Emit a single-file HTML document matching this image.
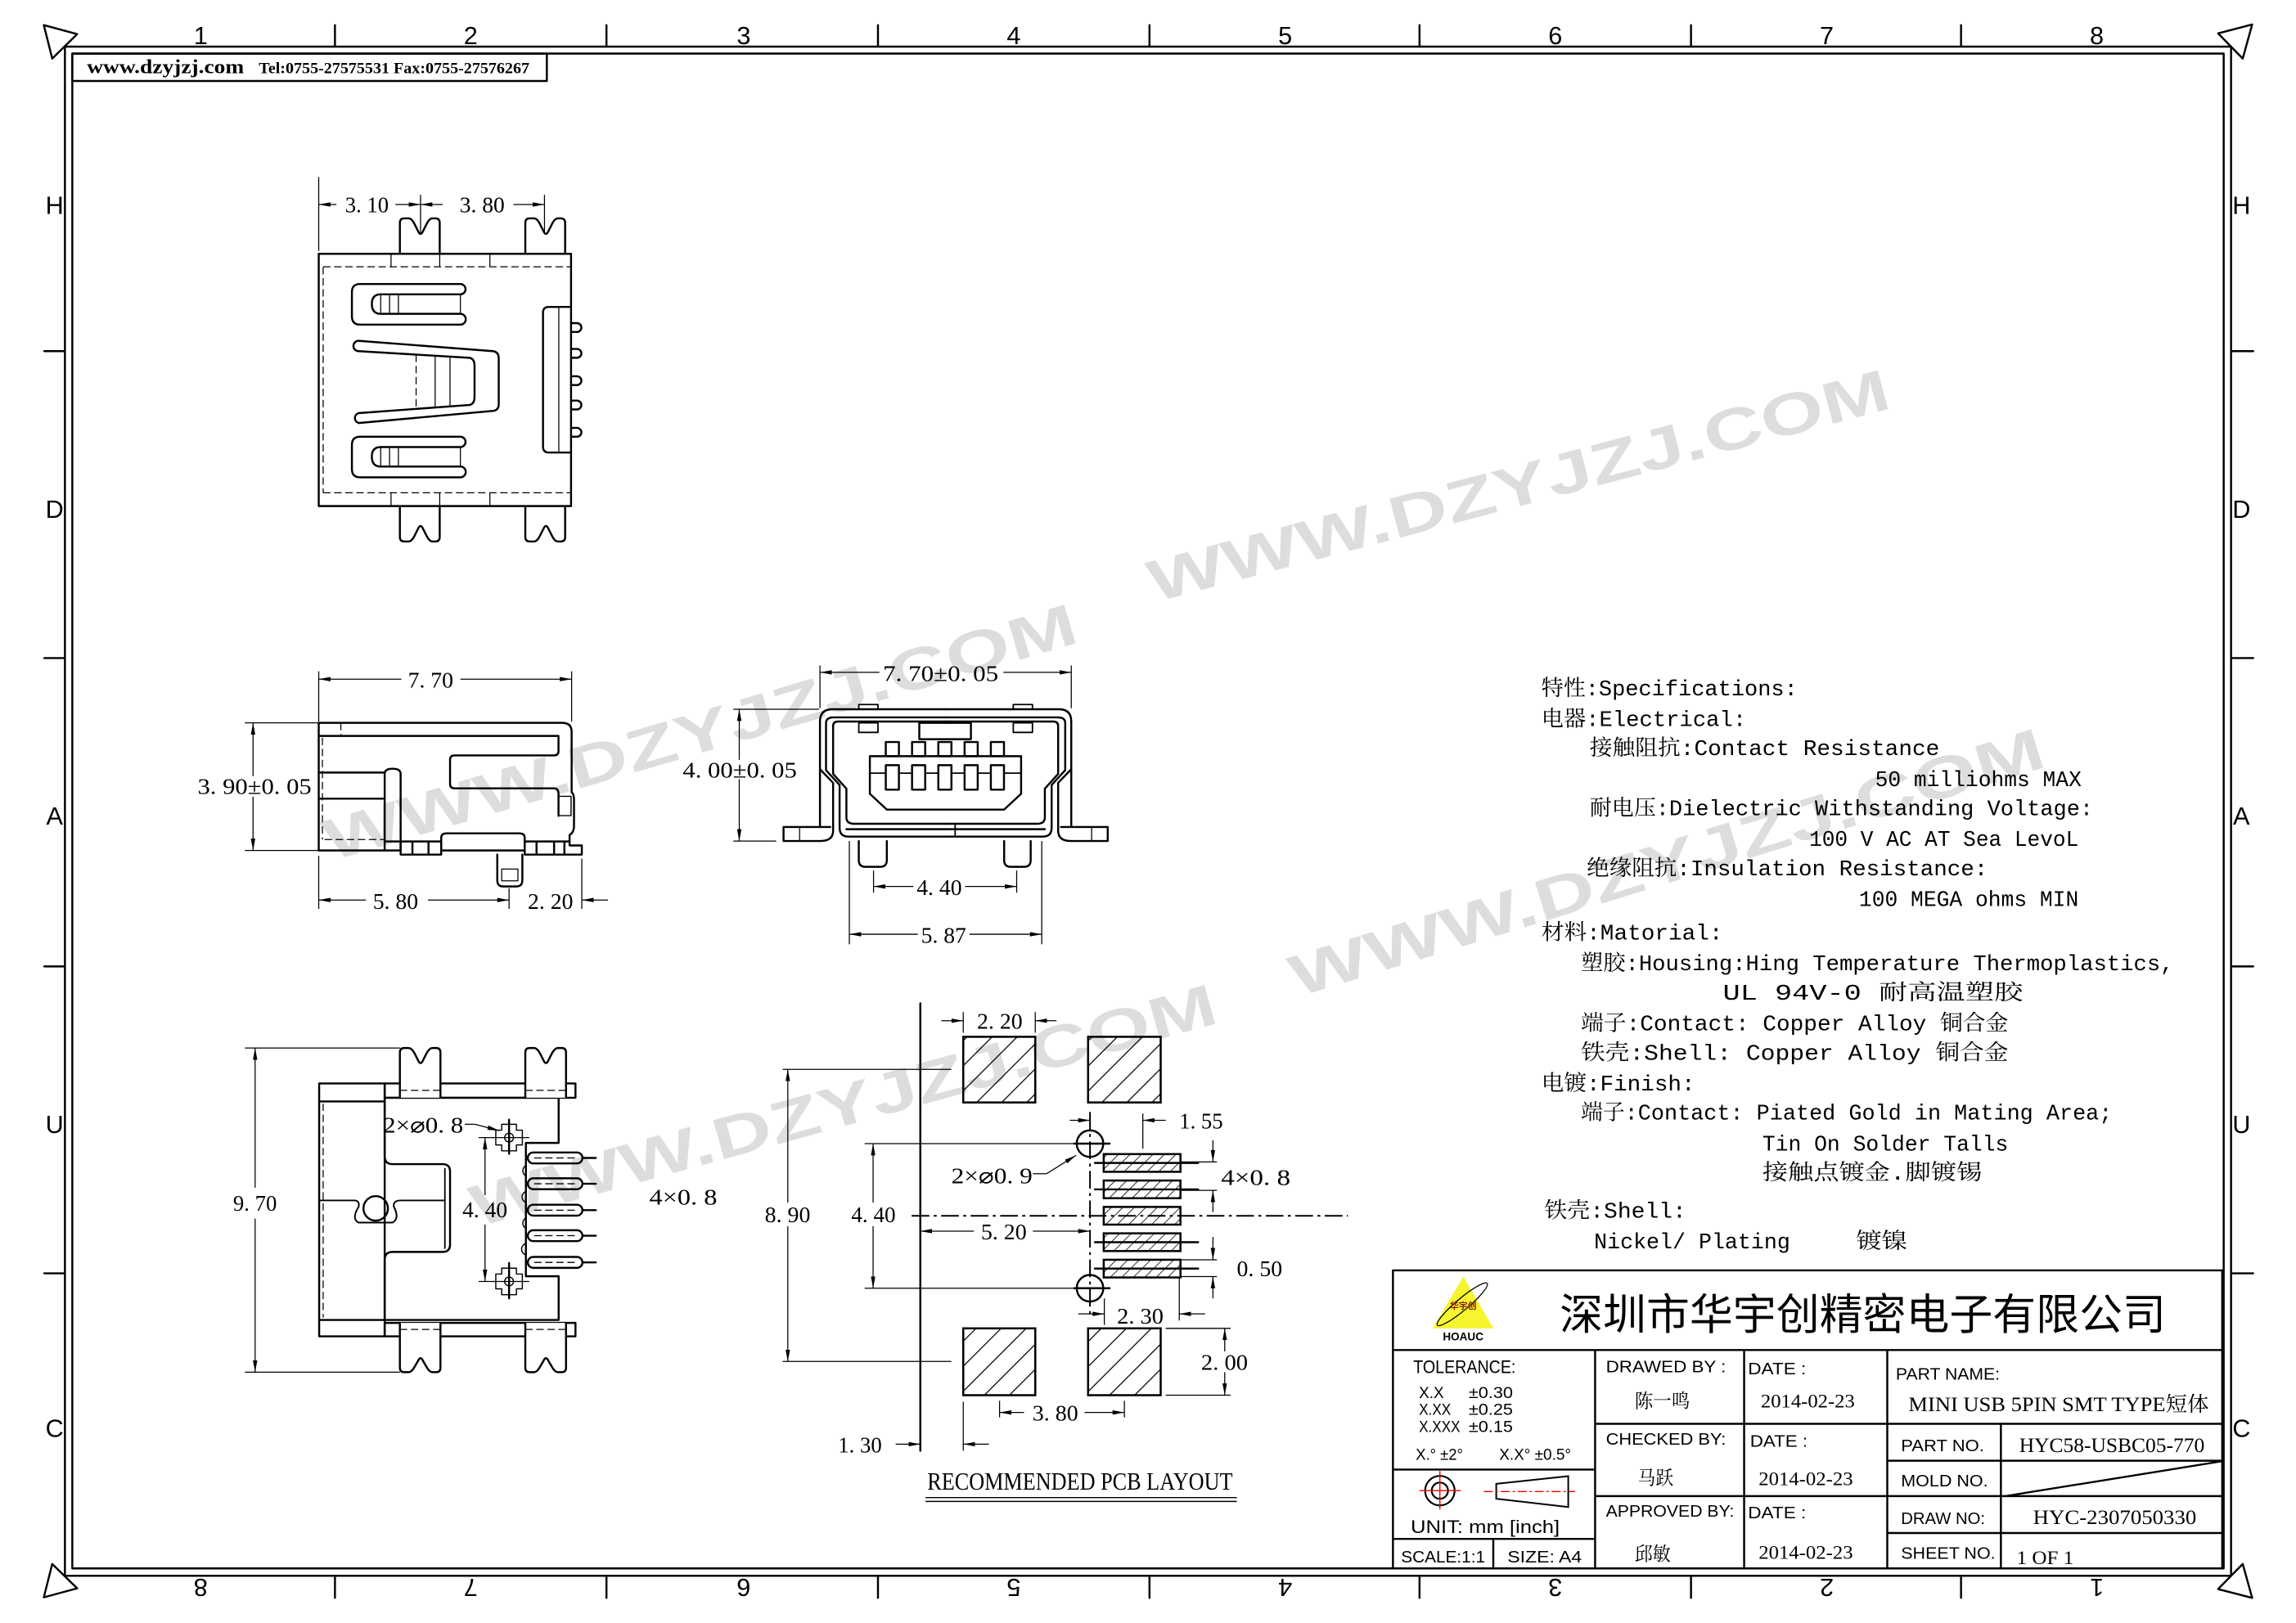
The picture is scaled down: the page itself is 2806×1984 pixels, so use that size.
<!DOCTYPE html>
<html><head><meta charset="utf-8"><style>
html,body{margin:0;padding:0;background:#fff;}
svg{display:block;}
.o{stroke:#000;stroke-width:1.35;fill:none;stroke-linejoin:round;stroke-linecap:round}
.d{stroke:#000;stroke-width:0.7;fill:none}
.ds{stroke:#000;stroke-width:0.7;fill:none;stroke-dasharray:5,2.5}
.cl{stroke:#000;stroke-width:1.1;fill:none;stroke-dasharray:12,3,2,3}
.t{font-family:"Liberation Serif","Noto Serif CJK SC",serif;font-size:15px;fill:#000}
.s{font-family:"Liberation Sans","Noto Sans CJK SC",sans-serif;fill:#000}
.m{font-family:"Liberation Mono","Noto Serif CJK SC",monospace;font-size:15px;fill:#000}
.fr{font-family:"Liberation Sans",sans-serif;font-size:17px;fill:#000;text-anchor:middle}
.wm{font-family:"Liberation Sans",sans-serif;font-size:40px;fill:#dddddd;font-weight:bold}
</style></head><body>
<svg width="2806" height="1984" viewBox="0 0 1556 1100" preserveAspectRatio="none" xmlns="http://www.w3.org/2000/svg">
<defs>
<marker id="a" markerUnits="userSpaceOnUse" markerWidth="8" markerHeight="3" refX="8" refY="1.5" orient="auto"><path d="M0,0 L8,1.5 L0,3 z" fill="#000"/></marker>
<pattern id="hb" patternUnits="userSpaceOnUse" width="12" height="12" patternTransform="rotate(45)"><line x1="0" y1="0" x2="0" y2="12" stroke="#000" stroke-width="1.4"/></pattern>
<pattern id="hs" patternUnits="userSpaceOnUse" width="5.5" height="5.5" patternTransform="rotate(45)"><line x1="0" y1="0" x2="0" y2="5.5" stroke="#000" stroke-width="0.9"/></pattern>
</defs>
<rect width="1556" height="1100" fill="#fff"/>

<!-- watermarks -->
<g transform="scale(0.992)">
<text class="wm" x="785" y="412" textLength="522" lengthAdjust="spacingAndGlyphs" transform="rotate(-14.75 785 398)">WWW.DZYJZJ.COM</text>
<text class="wm" x="222" y="589" textLength="534" lengthAdjust="spacingAndGlyphs" transform="rotate(-16.3 222 575)">WWW.DZYJZJ.COM</text>
<text class="wm" x="882" y="682" textLength="537" lengthAdjust="spacingAndGlyphs" transform="rotate(-17.1 882 668)">WWW.DZYJZJ.COM</text>
<text class="wm" x="322" y="839" textLength="527" lengthAdjust="spacingAndGlyphs" transform="rotate(-15.4 322 825)">WWW.DZYJZJ.COM</text>
</g>

<!-- frame -->
<rect x="44" y="31.6" width="1468" height="1036.4" class="o" stroke-width="1.5"/>
<rect x="49" y="36.3" width="1458" height="1026.7" class="o" stroke-width="1.5"/>
<g class="o">
<path d="M227,17V31.6M411,17V31.6M595,17V31.6M779,17V31.6M962,17V31.6M1146,17V31.6M1329,17V31.6"/>
<path d="M227,1068V1083M411,1068V1083M595,1068V1083M779,1068V1083M962,1068V1083M1146,1068V1083M1329,1068V1083"/>
<path d="M30,238H44M30,446H44M30,655H44M30,863H44M1512,238H1527M1512,446H1527M1512,655H1527M1512,863H1527"/>
<path d="M29.7,17 L52.3,23.1 L35.4,39.7 Z"/>
<path d="M1503.2,22.6 L1526.3,16.6 L1519.9,39.7 Z"/>
<path d="M29.7,1082.6 L52.3,1076.5 L35.4,1060 Z"/>
<path d="M1503.2,1077 L1526.3,1083 L1519.9,1060 Z"/>
</g>
<g class="fr">
<text x="136" y="30">1</text><text x="319" y="30">2</text><text x="504" y="30">3</text><text x="687" y="30">4</text><text x="871" y="30">5</text><text x="1054" y="30">6</text><text x="1238" y="30">7</text><text x="1421" y="30">8</text>
<text x="136" y="1082" transform="rotate(180 136 1076)">8</text><text x="319" y="1082" transform="rotate(180 319 1076)">7</text><text x="504" y="1082" transform="rotate(180 504 1076)">6</text><text x="687" y="1082" transform="rotate(180 687 1076)">5</text><text x="871" y="1082" transform="rotate(180 871 1076)">4</text><text x="1054" y="1082" transform="rotate(180 1054 1076)">3</text><text x="1238" y="1082" transform="rotate(180 1238 1076)">2</text><text x="1421" y="1082" transform="rotate(180 1421 1076)">1</text>
<text x="37" y="145">H</text><text x="37" y="351">D</text><text x="37" y="559">A</text><text x="37" y="768">U</text><text x="37" y="974">C</text>
<text x="1519" y="145">H</text><text x="1519" y="351">D</text><text x="1519" y="559">A</text><text x="1519" y="768">U</text><text x="1519" y="974">C</text>
</g>
<!-- header -->
<rect x="49" y="36.3" width="321.6" height="18.6" class="o" stroke-width="1.5"/>
<text x="58.9" y="49.5" textLength="106.5" lengthAdjust="spacingAndGlyphs" style="font-family:'Liberation Serif',serif;font-weight:bold;font-size:13.5px">www.dzyjzj.com</text>
<text x="175.4" y="49.5" textLength="183.4" lengthAdjust="spacingAndGlyphs" style="font-family:'Liberation Serif',serif;font-weight:bold;font-size:10.5px">Tel:0755-27575531  Fax:0755-27576267</text>

<!-- ================= TOP VIEW ================= -->
<g class="o">
<rect x="216" y="172" width="171" height="171"/>
<path d="M271,172 V151 Q271,148 274,148 H277 Q279,148 281,152 L283.5,157 Q285,160 286.5,157 L289,152 Q291,148 293,148 H295 Q298,148 298,151 V172"/>
<path d="M356,172 V151 Q356,148 359,148 H362 Q364,148 366,152 L368.5,157 Q370,160 371.5,157 L374,152 Q376,148 378,148 H380 Q383,148 383,151 V172"/>
<g transform="translate(0,515) scale(1,-1)">
<path d="M271,172 V151 Q271,148 274,148 H277 Q279,148 281,152 L283.5,157 Q285,160 286.5,157 L289,152 Q291,148 293,148 H295 Q298,148 298,151 V172"/>
<path d="M356,172 V151 Q356,148 359,148 H362 Q364,148 366,152 L368.5,157 Q370,160 371.5,157 L374,152 Q376,148 378,148 H380 Q383,148 383,151 V172"/>
</g>
<path d="M312,199.5 H258 Q252,199.5 252,206 Q252,212.7 258,212.7 H312 A3.6,3.6 0 0 1 312,220 H244 Q238.5,220 238.5,214.5 V198 Q238.5,192.5 244,192.5 H312 A3.5,3.5 0 0 1 312,199.5 Z"/>
<g transform="translate(0,103.5)"><path d="M312,199.5 H258 Q252,199.5 252,206 Q252,212.7 258,212.7 H312 A3.6,3.6 0 0 1 312,220 H244 Q238.5,220 238.5,214.5 V198 Q238.5,192.5 244,192.5 H312 A3.5,3.5 0 0 1 312,199.5 Z"/></g>
<path d="M243,238 A3.5,3.5 0 0 1 243,231 L334,238 Q338,238.5 338,243 V274 Q338,278 334,278.5 L243,286.7 A3.5,3.5 0 0 1 243,280 L318,274.5 Q321.6,274 321.6,269 V248 Q321.6,243 318,242.5 Z"/>
<path d="M387,208 H372 Q368,208 368,212 V302.7 Q368,306.7 372,306.7 H387"/>
<path d="M387,219 H391 A3,3 0 0 1 391,225 H387 M387,236.5 H391 A3,3 0 0 1 391,242.5 H387 M387,255 H391 A3,3 0 0 1 391,261 H387 M387,271.5 H391 A3,3 0 0 1 391,277.5 H387 M387,290 H391 A3,3 0 0 1 391,296 H387"/>
</g>
<g class="d" stroke-width="1">
<path d="M258,199.5V212.7M264,199.5V212.7M270,199.5V212.7M312,199.5V212.7"/>
<path d="M258,303V316.2M264,303V316.2M270,303V316.2M312,303V316.2"/>
<path d="M294.9,241V276.5M305,242V275M378.7,208V306.7"/>
<path d="M265,172V181M298,172V181M332,172V181M265,334V343M298,334V343M332,334V343"/>
</g>
<path class="ds" d="M219,180.8H387M219,334H387M219,181V334M282,240.5V277.5"/>
<g class="d">
<path d="M216,120V170M285,132V158M369,132V158"/>
<line x1="228" y1="138.6" x2="216" y2="138.6" marker-end="url(#a)"/>
<line x1="268" y1="138.6" x2="285" y2="138.6" marker-end="url(#a)"/>
<line x1="300" y1="138.6" x2="285" y2="138.6" marker-end="url(#a)"/>
<line x1="348" y1="138.6" x2="369" y2="138.6" marker-end="url(#a)"/>
</g>
<text class="t" x="233.9" y="144" textLength="29.5" lengthAdjust="spacingAndGlyphs">3. 10</text>
<text class="t" x="311.5" y="144" textLength="30.5" lengthAdjust="spacingAndGlyphs">3. 80</text>

<!-- ================= SIDE VIEW ================= -->
<g class="o">
<path d="M216,576.4 V489.9 H381 Q387.4,489.9 387.4,496 V537 Q389,538 389,542 V560 Q389,564 386,566 V570.3"/>
<path d="M216,498.8 H378.5 V509 Q378.5,512 375.5,512 H308 Q305,512 305,515 V531.3 Q305,534.3 308,534.3 H375.5 Q378.5,534.3 378.5,538 V553"/>
<rect x="378.5" y="539.7" width="8.5" height="13.1" stroke-width="0.8"/>
<path d="M216,523.6 H260.7 M216,541.3 H260.7"/>
<path d="M260.7,576.4 V524.5 Q260.7,521 266,521 Q271.5,521 271.5,524.5 V576.4"/>
<path d="M260.7,570.3 H271.5 M216,576.4 H271.5"/>
<path d="M271.5,570.3 H299 V579.2 H271.5 Z M279.5,570.3V579.2 M290.4,570.3V579.2"/>
<path d="M299,576.4 V568 Q299,564.8 302.5,564.8 H352 Q355.6,564.8 355.6,568 V576.4 Z"/>
<path d="M355.6,570.3 H386 V573 H394.3 V579.2 H355.6 Z M363.6,570.3V579.2 M375.5,570.3V579.2 M382.5,570.3V579.2"/>
<path d="M337,579.2 V596.5 Q337,600.8 341,600.8 H350 Q354,600.8 354,596.5 V579.2"/>
<path d="M340,589 H351 V597 H340 Z" stroke-width="0.7"/>
</g>
<path class="ds" d="M218.5,500V569 M231,489.9V498.8 M220,569H260"/>
<g class="d">
<path d="M216,455V489M387.4,455V489"/>
<line x1="272" y1="460.3" x2="216" y2="460.3" marker-end="url(#a)"/>
<line x1="312" y1="460.3" x2="387.4" y2="460.3" marker-end="url(#a)"/>
<path d="M166,489.9H216M166,576.4H216"/>
<line x1="171.5" y1="526" x2="171.5" y2="489.9" marker-end="url(#a)"/>
<line x1="171.5" y1="540" x2="171.5" y2="576.4" marker-end="url(#a)"/>
<path d="M216,580V616M345,602V616M394.3,582V616"/>
<line x1="248" y1="610" x2="216" y2="610" marker-end="url(#a)"/>
<line x1="290" y1="610" x2="345" y2="610" marker-end="url(#a)"/>
<line x1="412" y1="610" x2="394.3" y2="610" marker-end="url(#a)"/>
</g>
<rect x="140" y="527" width="70" height="12" fill="#fff"/>
<text class="t" x="276.5" y="466" textLength="30.7" lengthAdjust="spacingAndGlyphs">7. 70</text>
<text class="t" x="133.9" y="538" textLength="77.2" lengthAdjust="spacingAndGlyphs">3. 90±0. 05</text>
<text class="t" x="252.7" y="616" textLength="30.7" lengthAdjust="spacingAndGlyphs">5. 80</text>
<text class="t" x="357.7" y="616" textLength="30.7" lengthAdjust="spacingAndGlyphs">2. 20</text>

<!-- ================= FRONT VIEW ================= -->
<g class="o">
<path d="M562.7,560.5 H531 V570 H556"/>
<path d="M555.7,560.5 V489 Q555.7,480.7 564,480.7 H641"/>
<path d="M555.7,521.3 L564.6,530.6 V563 Q564.6,570 556,570"/>
<path d="M559.8,490 Q559.8,486.2 565,486.2 H641 M559.8,490 V522 L569,532 V561 Q569,567 575,567 H641"/>
<path d="M564.6,492 Q564.6,489 568,489 H641 M564.6,492 V524.5 L573.6,534.5 V554 Q573.6,558.3 579,558.3 H641"/>
<path d="M573.6,562 H641"/>
<rect x="582" y="477.5" width="13" height="3.2" stroke-width="1"/>
<rect x="582" y="489.9" width="13" height="6.5" stroke-width="1"/>
<path d="M541.9,560.5V570" stroke-width="0.7"/>
</g>
<g class="o" transform="matrix(-1 0 0 1 1281.7 0)">
<path d="M562.7,560.5 H531 V570 H556"/>
<path d="M555.7,560.5 V489 Q555.7,480.7 564,480.7 H641"/>
<path d="M555.7,521.3 L564.6,530.6 V563 Q564.6,570 556,570"/>
<path d="M559.8,490 Q559.8,486.2 565,486.2 H641 M559.8,490 V522 L569,532 V561 Q569,567 575,567 H641"/>
<path d="M564.6,492 Q564.6,489 568,489 H641 M564.6,492 V524.5 L573.6,534.5 V554 Q573.6,558.3 579,558.3 H641"/>
<path d="M573.6,562 H641"/>
<rect x="582" y="477.5" width="13" height="3.2" stroke-width="1"/>
<rect x="582" y="489.9" width="13" height="6.5" stroke-width="1"/>
<path d="M541.9,560.5V570" stroke-width="0.7"/>
</g>
<g class="o">
<path d="M647.3,558.3V567" stroke-width="1"/>
<rect x="623" y="489.9" width="35" height="11.1"/>
<path d="M589.5,512.5 H692 V538 L680.5,548.7 H601 L589.5,538 Z"/>
<path d="M589.5,524 H692" stroke-width="1"/>
<rect x="600.3" y="502.9" width="8.9" height="9.6"/><rect x="618.1" y="502.9" width="8.9" height="9.6"/><rect x="635.9" y="502.9" width="8.9" height="9.6"/><rect x="653.7" y="502.9" width="8.9" height="9.6"/><rect x="671.5" y="502.9" width="8.9" height="9.6"/>
<rect x="600.3" y="518.6" width="8.9" height="16.6" fill="#fff"/><rect x="618.1" y="518.6" width="8.9" height="16.6" fill="#fff"/><rect x="635.9" y="518.6" width="8.9" height="16.6" fill="#fff"/><rect x="653.7" y="518.6" width="8.9" height="16.6" fill="#fff"/><rect x="671.5" y="518.6" width="8.9" height="16.6" fill="#fff"/>
<path d="M582,570 V583 Q582,587.5 586.5,587.5 H596.5 Q601,587.5 601,583 V570"/>
<path d="M680.5,570 V583 Q680.5,587.5 685,587.5 H694 Q698.5,587.5 698.5,583 V570"/>
</g>
<g class="d">
<path d="M555.7,451V480M726,451V480"/>
<line x1="596" y1="455.7" x2="555.7" y2="455.7" marker-end="url(#a)"/>
<line x1="680" y1="455.7" x2="726" y2="455.7" marker-end="url(#a)"/>
<path d="M497,480.7H555M497,570H526"/>
<line x1="501" y1="515" x2="501" y2="480.7" marker-end="url(#a)"/>
<line x1="501" y1="528" x2="501" y2="570" marker-end="url(#a)"/>
<path d="M592,590V605M689,590V605M575.6,570V640M706,570V640"/>
<line x1="619" y1="600.8" x2="592" y2="600.8" marker-end="url(#a)"/>
<line x1="654" y1="600.8" x2="689" y2="600.8" marker-end="url(#a)"/>
<line x1="622" y1="633.2" x2="575.6" y2="633.2" marker-end="url(#a)"/>
<line x1="657" y1="633.2" x2="706" y2="633.2" marker-end="url(#a)"/>
</g>
<rect x="463" y="516" width="77" height="12" fill="#fff"/>
<text class="t" x="598.4" y="461.5" textLength="78.2" lengthAdjust="spacingAndGlyphs">7. 70±0. 05</text>
<text class="t" x="462.7" y="527" textLength="77.3" lengthAdjust="spacingAndGlyphs">4. 00±0. 05</text>
<text class="t" x="621.2" y="606.5" textLength="30.7" lengthAdjust="spacingAndGlyphs">4. 40</text>
<text class="t" x="624.2" y="639" textLength="30.6" lengthAdjust="spacingAndGlyphs">5. 87</text>

<!-- ================= BOTTOM VIEW ================= -->
<g class="o">
<rect x="216.3" y="734.3" width="44.4" height="171.4"/>
<path d="M216.3,746.5H260.7M216.3,894.6H260.7"/>
<rect x="260.7" y="734.3" width="129.3" height="9.7"/>
<rect x="260.7" y="896.6" width="129.3" height="9.1"/>
<path d="M260.7,744 H378.6 V774.6 H356.4 V865 H378.6 V894.6 H260.7"/>
<path d="M260.7,744 V783.6 Q260.7,789 266.2,789 H300 Q305,789 305,794 V843.5 Q305,848.5 300,848.5 H266.2 Q260.7,848.5 260.7,853.8 V894.6"/>
<path d="M301.5,792V846" stroke-width="1"/>
<path d="M216.3,813.6H240 Q244,813.6 243,818 Q238,826 243,828.6 H266 Q271,826 267,818 Q266,813.6 271.8,813.6 H301.5" stroke-width="1.1"/>
<circle cx="254.6" cy="819" r="8.3"/>
<path d="M271,744 V713.3 Q271,710.3 274,710.3 H277 Q279,710.3 281,714 L283.5,719 Q285,722 286.5,719 L289,714 Q291,710.3 293,710.3 H295.5 Q298.5,710.3 298.5,713.3 V744" fill="#fff"/>
<path d="M356,744 V713.3 Q356,710.3 359,710.3 H362 Q364,710.3 366,714 L368.5,719 Q370,722 371.5,719 L374,714 Q376,710.3 378,710.3 H380.6 Q383.6,710.3 383.6,713.3 V744" fill="#fff"/>
<path d="M271,896.6 V927 Q271,930 274,930 H277 Q279,930 281,926.3 L283.5,922 Q285,919 286.5,922 L289,926.3 Q291,930 293,930 H295.5 Q298.5,930 298.5,927 V896.6" fill="#fff"/>
<path d="M356,896.6 V927 Q356,930 359,930 H362 Q364,930 366,926.3 L368.5,922 Q370,919 371.5,922 L374,926.3 Q376,930 378,930 H380.6 Q383.6,930 383.6,927 V896.6" fill="#fff"/>
<rect x="357.7" y="781.1" width="37" height="7.4" rx="3.7"/><rect x="357.7" y="798.6" width="37" height="7.4" rx="3.7"/><rect x="357.7" y="816.5" width="37" height="7.4" rx="3.7"/><rect x="357.7" y="833.8" width="37" height="7.4" rx="3.7"/><rect x="357.7" y="851.9" width="37" height="7.4" rx="3.7"/>
<path d="M356.4,790 A4,4 0 0 0 356.4,797 M356.4,807.5 A4,4 0 0 0 356.4,815 M356.4,825.5 A4,4 0 0 0 356.4,832.5 M356.4,842.8 A4,4 0 0 0 356.4,850.5" stroke-width="0.8"/>
</g>
<path class="ds" d="M219,748V893 M271,739H298 M356,739H383.6 M271,901H298 M356,901H383.6 M362,784.8H390 M362,802.3H390 M362,820.2H390 M362,837.5H390 M362,855.6H390"/>
<g class="o" stroke-width="1.1">
<path d="M394.7,784.8H403.8M394.7,802.3H403.8M394.7,820.2H403.8M394.7,837.5H403.8M394.7,855.6H403.8"/>
<path d="M340,762 H350 V766 H354 V776 H350 V780 H340 V776 H336 V766 H340 Z" stroke-width="0.8"/>
<path d="M340,859.5 H350 V863.5 H354 V873.5 H350 V877.5 H340 V873.5 H336 V863.5 H340 Z" stroke-width="0.8"/>
<circle cx="345" cy="771" r="3" stroke-width="0.8"/><circle cx="345" cy="868.5" r="3" stroke-width="0.8"/>
<path d="M345,758.9V782 M345,856V880" />
</g>
<g class="d">
<path d="M324.4,771H358.7M324.4,868.5H358.7M166,710.3H271M166,930H271"/>
<line x1="172.9" y1="805" x2="172.9" y2="710.3" marker-end="url(#a)"/>
<line x1="172.9" y1="826" x2="172.9" y2="930" marker-end="url(#a)"/>
<line x1="328.7" y1="810" x2="328.7" y2="771" marker-end="url(#a)"/>
<line x1="328.7" y1="830" x2="328.7" y2="868.5" marker-end="url(#a)"/>
<path d="M315,762 H322"/>
<line x1="322" y1="762" x2="338.3" y2="766.3" marker-end="url(#a)"/>
</g>
<text class="t" x="158" y="820.5" textLength="29.6" lengthAdjust="spacingAndGlyphs">9. 70</text>
<text class="t" x="313.4" y="825" textLength="30.5" lengthAdjust="spacingAndGlyphs">4. 40</text>
<text class="t" x="259.6" y="767.5" textLength="54.4" lengthAdjust="spacingAndGlyphs">2×⌀0. 8</text>
<text class="t" x="440" y="816.5" textLength="46" lengthAdjust="spacingAndGlyphs">4×0. 8</text>

<!-- ================= PCB LAYOUT ================= -->
<path d="M623.7,680V983.3" class="o" stroke-width="1.5"/>
<g stroke="#000" stroke-width="1.4">
<rect x="652.8" y="702.7" width="48.8" height="44.5" fill="url(#hb)"/>
<rect x="737.4" y="702.7" width="49.2" height="44.5" fill="url(#hb)"/>
<rect x="652.8" y="900.3" width="48.8" height="45.3" fill="url(#hb)"/>
<rect x="737.4" y="900.3" width="49.2" height="45.3" fill="url(#hb)"/>
<rect x="748" y="782.2" width="52" height="12" fill="url(#hs)"/>
<rect x="748" y="800.1" width="52" height="12" fill="url(#hs)"/>
<rect x="748" y="818" width="52" height="12" fill="url(#hs)"/>
<rect x="748" y="835.9" width="52" height="12" fill="url(#hs)"/>
<rect x="748" y="853.8" width="52" height="12" fill="url(#hs)"/>
</g>
<g class="o" stroke-width="1.1">
<path d="M742,788.2H812 M742,806.1H812 M742,841.9H812 M742,859.8H812"/>
<circle cx="738.7" cy="775.1" r="9"/><circle cx="738.7" cy="873.1" r="9"/>
<path d="M728,775.1H752 M728,873.1H752"/>
</g>
<path class="cl" d="M617.8,824H913.5 M738.7,753.6V890.5"/>
<g class="d">
<path d="M530.4,724.8H644.7 M530.4,922.7H644.7 M586,775.1H728 M586,873.1H728"/>
<line x1="533.9" y1="815" x2="533.9" y2="724.8" marker-end="url(#a)"/>
<line x1="533.9" y1="831" x2="533.9" y2="922.7" marker-end="url(#a)"/>
<line x1="591.7" y1="815" x2="591.7" y2="775.1" marker-end="url(#a)"/>
<line x1="591.7" y1="831" x2="591.7" y2="873.1" marker-end="url(#a)"/>
<line x1="660" y1="834.4" x2="623.7" y2="834.4" marker-end="url(#a)"/>
<line x1="700" y1="834.4" x2="738.7" y2="834.4" marker-end="url(#a)"/>
<path d="M652.8,686V700 M701.6,686V700"/>
<line x1="638" y1="691.8" x2="652.8" y2="691.8" marker-end="url(#a)"/>
<line x1="716" y1="691.8" x2="701.6" y2="691.8" marker-end="url(#a)"/>
<path d="M774.5,754.7V778.5"/>
<line x1="725" y1="759.3" x2="738.7" y2="759.3" marker-end="url(#a)"/>
<line x1="790" y1="759.3" x2="774.5" y2="759.3" marker-end="url(#a)"/>
<path d="M800.6,787.5H824.7 M800.6,806.8H824.7 M800.6,853.8H824.7 M800.6,865.2H824.7"/>
<line x1="822" y1="772.8" x2="822" y2="787.5" marker-end="url(#a)"/>
<line x1="822" y1="821.4" x2="822" y2="806.8" marker-end="url(#a)"/>
<line x1="822" y1="838.4" x2="822" y2="853.8" marker-end="url(#a)"/>
<line x1="822" y1="880" x2="822" y2="865.2" marker-end="url(#a)"/>
<path d="M748.4,880V898 M799.2,865.6V895"/>
<line x1="730.7" y1="890.5" x2="748.4" y2="890.5" marker-end="url(#a)"/>
<line x1="816.7" y1="890.5" x2="799.2" y2="890.5" marker-end="url(#a)"/>
<path d="M790,900.3H834 M790,945.6H834"/>
<line x1="830" y1="916" x2="830" y2="900.3" marker-end="url(#a)"/>
<line x1="830" y1="930" x2="830" y2="945.6" marker-end="url(#a)"/>
<path d="M677.4,949.4V960.6 M762,949.4V960.6"/>
<line x1="694" y1="957.3" x2="677.4" y2="957.3" marker-end="url(#a)"/>
<line x1="735" y1="957.3" x2="762" y2="957.3" marker-end="url(#a)"/>
<path d="M652.8,950V983.3"/>
<line x1="607" y1="978.8" x2="623.7" y2="978.8" marker-end="url(#a)"/>
<line x1="670.2" y1="978.8" x2="652.8" y2="978.8" marker-end="url(#a)"/>
<path d="M700,795.5H709.2"/>
<line x1="709.2" y1="795.5" x2="729.3" y2="783" marker-end="url(#a)"/>
<path d="M627.2,1015H838.2 M627.2,1017.6H838.2" stroke-width="0.8"/>
</g>
<text class="t" x="662.1" y="697.3" textLength="30.9" lengthAdjust="spacingAndGlyphs">2. 20</text>
<text class="t" x="799.2" y="764.8" textLength="29.6" lengthAdjust="spacingAndGlyphs">1. 55</text>
<text class="t" x="644.7" y="802" textLength="55" lengthAdjust="spacingAndGlyphs">2×⌀0. 9</text>
<text class="t" x="827.5" y="803.2" textLength="47" lengthAdjust="spacingAndGlyphs">4×0. 8</text>
<text class="t" x="518.3" y="828.2" textLength="30.9" lengthAdjust="spacingAndGlyphs">8. 90</text>
<text class="t" x="576.9" y="828.2" textLength="30.1" lengthAdjust="spacingAndGlyphs">4. 40</text>
<text class="t" x="664.8" y="839.9" textLength="31" lengthAdjust="spacingAndGlyphs">5. 20</text>
<text class="t" x="838.2" y="865" textLength="30.8" lengthAdjust="spacingAndGlyphs">0. 50</text>
<text class="t" x="757" y="897.2" textLength="31.5" lengthAdjust="spacingAndGlyphs">2. 30</text>
<text class="t" x="814" y="928.4" textLength="31.7" lengthAdjust="spacingAndGlyphs">2. 00</text>
<text class="t" x="699.7" y="962.8" textLength="31" lengthAdjust="spacingAndGlyphs">3. 80</text>
<text class="t" x="568" y="984.3" textLength="29.6" lengthAdjust="spacingAndGlyphs">1. 30</text>
<text class="t" x="628.4" y="1009.5" textLength="207" lengthAdjust="spacingAndGlyphs" style="font-size:17px">RECOMMENDED  PCB  LAYOUT</text>

<!-- ================= SPECS ================= -->
<g transform="scale(0.992)">
<text class="m" x="1053" y="475" textLength="175" lengthAdjust="spacingAndGlyphs">特性:Specifications:</text>
<text class="m" x="1053" y="496" textLength="140" lengthAdjust="spacingAndGlyphs">电器:Electrical:</text>
<text class="m" x="1086" y="516" textLength="239" lengthAdjust="spacingAndGlyphs">接触阻抗:Contact Resistance</text>
<text class="m" x="1281" y="537" textLength="141" lengthAdjust="spacingAndGlyphs">50 milliohms MAX</text>
<text class="m" x="1086" y="557" textLength="344" lengthAdjust="spacingAndGlyphs">耐电压:Dielectric Withstanding Voltage:</text>
<text class="m" x="1236" y="578" textLength="184" lengthAdjust="spacingAndGlyphs">100 V AC AT Sea LevoL</text>
<text class="m" x="1084" y="598" textLength="274" lengthAdjust="spacingAndGlyphs">绝缘阻抗:Insulation Resistance:</text>
<text class="m" x="1270" y="619" textLength="150" lengthAdjust="spacingAndGlyphs">100 MEGA ohms MIN</text>
<text class="m" x="1053" y="642" textLength="124" lengthAdjust="spacingAndGlyphs">材料:Matorial:</text>
<text class="m" x="1080" y="663" textLength="405" lengthAdjust="spacingAndGlyphs">塑胶:Housing:Hing Temperature  Thermoplastics,</text>
<text class="m" x="1177" y="683" textLength="205" lengthAdjust="spacingAndGlyphs">UL 94V-0  耐高温塑胶</text>
<text class="m" x="1080" y="704" textLength="292" lengthAdjust="spacingAndGlyphs">端子:Contact: Copper Alloy 铜合金</text>
<text class="m" x="1080" y="724" textLength="292" lengthAdjust="spacingAndGlyphs">铁壳:Shell: Copper Alloy   铜合金</text>
<text class="m" x="1053" y="745" textLength="105" lengthAdjust="spacingAndGlyphs">电镀:Finish:</text>
<text class="m" x="1080" y="765" textLength="363" lengthAdjust="spacingAndGlyphs">端子:Contact: Piated Gold in Mating Area;</text>
<text class="m" x="1204" y="786" textLength="168" lengthAdjust="spacingAndGlyphs">Tin On Solder Talls</text>
<text class="m" x="1204" y="806" textLength="150" lengthAdjust="spacingAndGlyphs">接触点镀金.脚镀锡</text>
<text class="m" x="1055" y="832" textLength="97" lengthAdjust="spacingAndGlyphs">铁壳:Shell:</text>
<text class="m" x="1089" y="853" textLength="134" lengthAdjust="spacingAndGlyphs">Nickel/ Plating</text>
<text class="m" x="1268" y="853" textLength="35" lengthAdjust="spacingAndGlyphs">镀镍</text>
</g>

<!-- ================= TITLE BLOCK ================= -->
<g class="o" stroke-width="1.6">
<rect x="944" y="861" width="562" height="202"/>
<path d="M944,915H1506 M1081,915V1063 M1182,915V1063 M1279,915V1063 M1356,965V1063"/>
<path d="M1081,965H1279 M1081,1014H1279 M1279,965H1506 M1279,990H1506 M1279,1014H1506 M1279,1039H1506"/>
<path d="M944,996H1081 M944,1043H1081 M1012,1043V1063"/>
<path d="M1359,1014 L1505,990.5" stroke-width="1.3"/>
</g>
<polygon points="991.6,865.2 971,900.3 1012.2,900.3" fill="#f5f530"/>
<ellipse cx="991" cy="884" rx="22" ry="4" transform="rotate(-40 991 884)" fill="none" stroke="#000" stroke-width="0.7"/>
<text x="991.6" y="887" class="s" style="font-size:6px;fill:#8a1a00;text-anchor:middle;font-weight:bold">华宇创</text>
<text x="991.6" y="908.5" class="s" style="font-size:7.5px;text-anchor:middle;font-weight:bold">HOAUC</text>
<text x="1057" y="901" textLength="410.8" lengthAdjust="spacingAndGlyphs" style="font-family:'Noto Sans CJK SC','WenQuanYi Zen Hei',sans-serif;font-size:29px">深圳市华宇创精密电子有限公司</text>
<g class="s" style="font-size:11.5px">
<text x="957.8" y="930.5" textLength="69.4" lengthAdjust="spacingAndGlyphs" style="font-size:12.5px">TOLERANCE:</text>
<text x="961.6" y="947.5" textLength="16.9" lengthAdjust="spacingAndGlyphs" style="font-size:10.5px">X.X</text>
<text x="995.3" y="947.5" textLength="30" lengthAdjust="spacingAndGlyphs" style="font-size:10.5px">±0.30</text>
<text x="961.6" y="959" textLength="21.7" lengthAdjust="spacingAndGlyphs" style="font-size:10.5px">X.XX</text>
<text x="995.3" y="959" textLength="30" lengthAdjust="spacingAndGlyphs" style="font-size:10.5px">±0.25</text>
<text x="961.6" y="970.5" textLength="28" lengthAdjust="spacingAndGlyphs" style="font-size:10.5px">X.XXX</text>
<text x="995.3" y="970.5" textLength="30" lengthAdjust="spacingAndGlyphs" style="font-size:10.5px">±0.15</text>
<text x="959.5" y="989.5" textLength="31.9" lengthAdjust="spacingAndGlyphs" style="font-size:10.5px">X.° ±2°</text>
<text x="1016" y="989.5" textLength="48.7" lengthAdjust="spacingAndGlyphs" style="font-size:10.5px">X.X° ±0.5°</text>
<text x="956" y="1039" textLength="101" lengthAdjust="spacingAndGlyphs" style="font-size:12.5px">UNIT:  mm  [inch]</text>
<text x="949.5" y="1059" textLength="57" lengthAdjust="spacingAndGlyphs">SCALE:1:1</text>
<text x="1021.6" y="1059" textLength="50.4" lengthAdjust="spacingAndGlyphs">SIZE:  A4</text>
<text x="1088.3" y="930" textLength="81.4" lengthAdjust="spacingAndGlyphs">DRAWED  BY  :</text>
<text x="1184.6" y="931.5" textLength="39.4" lengthAdjust="spacingAndGlyphs">DATE  :</text>
<text x="1088.3" y="979" textLength="81.4" lengthAdjust="spacingAndGlyphs">CHECKED  BY:</text>
<text x="1186" y="980.5" textLength="39" lengthAdjust="spacingAndGlyphs">DATE  :</text>
<text x="1088.3" y="1028" textLength="87" lengthAdjust="spacingAndGlyphs">APPROVED  BY:</text>
<text x="1184.6" y="1029" textLength="39.4" lengthAdjust="spacingAndGlyphs">DATE  :</text>
<text x="1284.8" y="935" textLength="70.5" lengthAdjust="spacingAndGlyphs">PART  NAME:</text>
<text x="1288.3" y="983.5" textLength="56.4" lengthAdjust="spacingAndGlyphs">PART  NO.</text>
<text x="1288.3" y="1007.5" textLength="59" lengthAdjust="spacingAndGlyphs">MOLD  NO.</text>
<text x="1288.3" y="1033" textLength="57" lengthAdjust="spacingAndGlyphs">DRAW  NO:</text>
<text x="1288.3" y="1056.5" textLength="64" lengthAdjust="spacingAndGlyphs">SHEET  NO.</text>
</g>
<g class="t" style="font-size:13px">
<text x="1107.8" y="954" textLength="37.5" lengthAdjust="spacingAndGlyphs">陈一鸣</text>
<text x="1193.3" y="954" textLength="63.7" lengthAdjust="spacingAndGlyphs">2014-02-23</text>
<text x="1109.8" y="1006" textLength="24.3" lengthAdjust="spacingAndGlyphs">马跃</text>
<text x="1191.8" y="1006.5" textLength="64" lengthAdjust="spacingAndGlyphs">2014-02-23</text>
<text x="1107.8" y="1057.5" textLength="24.4" lengthAdjust="spacingAndGlyphs">邱敏</text>
<text x="1191.8" y="1056.5" textLength="64" lengthAdjust="spacingAndGlyphs">2014-02-23</text>
<text x="1293.4" y="956.5" textLength="203.6" lengthAdjust="spacingAndGlyphs" style="font-size:14px">MINI  USB  5PIN  SMT  TYPE短体</text>
<text x="1368.4" y="984" textLength="125.6" lengthAdjust="spacingAndGlyphs" style="font-size:14px">HYC58-USBC05-770</text>
<text x="1377.8" y="1033" textLength="110.7" lengthAdjust="spacingAndGlyphs" style="font-size:14px">HYC-2307050330</text>
<text x="1366.7" y="1060" textLength="38.6" lengthAdjust="spacingAndGlyphs" style="font-size:13px">1  OF  1</text>
</g>
<circle cx="975.8" cy="1010.3" r="10" fill="none" stroke="#000" stroke-width="1.2"/>
<circle cx="975.8" cy="1010.3" r="5.5" fill="none" stroke="#000" stroke-width="1.2"/>
<path d="M962,1010.3H990 M975.8,997V1023" stroke="#e00" stroke-width="0.8"/>
<polygon points="1014,1005.7 1062.8,1000.5 1062.8,1021.4 1014,1015.8" fill="none" stroke="#000" stroke-width="1.1"/>
<path d="M1005.6,1010.9H1067.5" stroke="#e00" stroke-width="0.8" stroke-dasharray="6,2,1.5,2"/>
</svg>
</body></html>
